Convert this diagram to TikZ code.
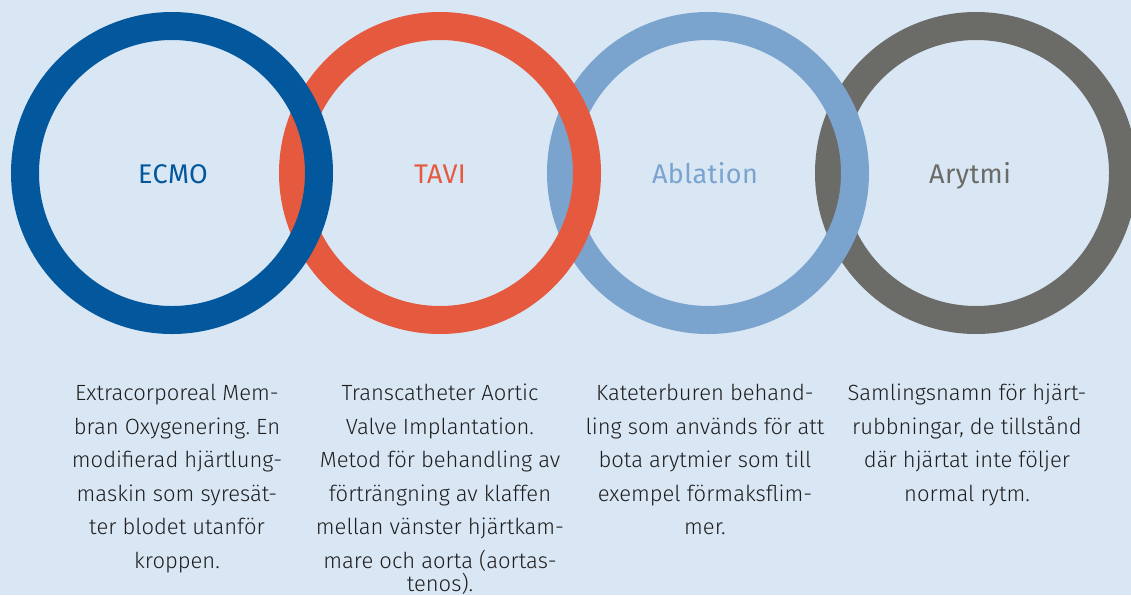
\documentclass[tikz,border=0pt]{standalone}
\usepackage{fontspec}
\setmainfont{Fira Sans}[UprightFont={* Light}]
\newfontfamily\headfont{Fira Sans}[LetterSpace=1.5]
\definecolor{bgc}{HTML}{D9E6F4}
\definecolor{ecmoc}{HTML}{03579C}
\definecolor{tavic}{HTML}{E55A3F}
\definecolor{ablc}{HTML}{7AA4CE}
\definecolor{arytc}{HTML}{6B6B67}
\definecolor{txtc}{HTML}{1E1E1E}
\begin{document}
\frenchspacing
\begin{tikzpicture}[x=1pt,y=-1pt,
  ring/.style={line width=28pt},
  head/.style={font=\headfont\fontsize{27}{30}\selectfont, inner sep=0pt, anchor=base},
  body/.style={font=\frenchspacing\fontsize{22}{33.5}\selectfont, text=txtc, align=center, anchor=north, inner sep=0pt}]
\fill[bgc] (0,0) rectangle (1131,595);
\useasboundingbox (0,0) rectangle (1131,595);
\begin{scope}
\clip (0,0) rectangle (1131,595);
\draw[ring, arytc] (976,173) circle[radius=147pt];
\draw[ring, ablc] (708,173) circle[radius=147pt];
\draw[ring, tavic] (440,173) circle[radius=147pt];
\draw[ring, ecmoc] (172,173) circle[radius=147pt];
\end{scope}
\node[head, text=ecmoc] (h1) at (173,183) {ECMO};
\node[head, text=tavic] (h2) at (440,183) {TAVI};
\node[head, text=ablc] (h3) at (705,183) {Ablation};
\node[head, text=arytc] (h4) at (970,183) {Arytmi};
\node[body] (t1) at (177,384) {Extracorporeal Mem-\\bran Oxygenering. En\\modifierad hjärtlung-\\maskin som syresät-\\ter blodet utanför\\kroppen.};
\node[body] (t2) at (440,384) {Transcatheter Aortic\\Valve Implantation.\\Metod för behandling av\\förträngning av klaffen\\mellan vänster hjärtkam-\\mare och aorta (aortas-\\[-10.5pt]tenos).};
\node[body] (t3) at (705,384) {Kateterburen behand-\\ling som används för att\\bota arytmier som till\\exempel förmaksflim-\\mer.};
\node[body] (t4) at (967,384) {Samlingsnamn för hjärt-\\rubbningar, de tillstånd\\där hjärtat inte följer\\normal rytm.};
\end{tikzpicture}
\end{document}
